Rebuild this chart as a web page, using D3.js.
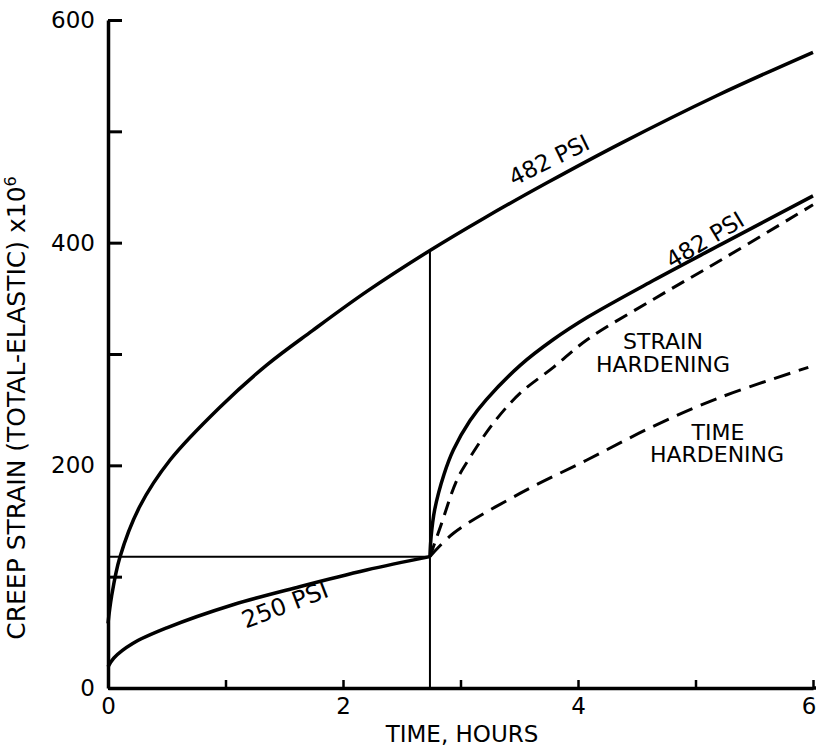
<!DOCTYPE html>
<html><head><meta charset="utf-8">
<script src="https://cdn.jsdelivr.net/npm/d3@7"></script>
<style>
body{margin:0;background:#fff;}
svg{display:block;background:#fff;}
text{font-family:"DejaVu Sans",sans-serif;fill:#000;}
</style>
</head><body>
<svg id="chart" width="816" height="753"></svg>
<script>
// ---- data (time in hours, creep strain x 10^6) ----
const xTickValues = [0, 1, 2, 3, 4, 5, 6];
const xTickLabels = ["0", "", "2", "", "4", "", "6"];
const yTickValues = [0, 100, 200, 300, 400, 500, 600];
const yTickLabels = ["0", "", "200", "", "400", "", "600"];

const time482 = [0, 0.03, 0.1, 0.27, 0.53, 0.95, 1.35, 1.74, 2.2, 2.74, 3.2, 3.74, 4.36, 5.18, 6.0];
const strain482 = [58, 82, 117, 163, 205, 252, 290, 321, 356, 393, 422, 454, 489, 532, 571];

const time250 = [0, 0.05, 0.21, 0.5, 1.07, 1.63, 2.2, 2.74];
const strain250 = [19, 27, 40, 54, 75, 91, 106, 118];

const timeSwitch = 2.74;
const strainSwitch = 118;

const time482After = [2.74, 2.75, 2.78, 2.86, 2.94, 3.08, 3.22, 3.51, 3.79, 4.08, 4.64, 5.21, 6.0];
const strain482After = [118, 136, 160, 192, 214, 240, 259, 290, 313, 333, 366, 398, 442];

const timeStrainHard = [2.74, 2.83, 2.97, 3.08, 3.28, 3.51, 3.79, 4.08, 4.64, 5.21, 6.0];
const strainStrainHard = [118, 145, 187, 207, 238, 265, 288, 313, 349, 384, 434];

const timeTimeHard = [2.74, 2.94, 3.51, 4.08, 4.64, 5.21, 5.96];
const strainTimeHard = [118, 139, 175, 205, 235, 261, 288];

const xTitle = "TIME, HOURS";
const yTitle = "CREEP STRAIN (TOTAL-ELASTIC) x10";
const yTitleSup = "6";

// ---- scales ----
const svg = d3.select("#chart");
const x = d3.scaleLinear().domain([0, 6]).range([108, 813]);
const y = d3.scaleLinear().domain([0, 600]).range([688, 20]);

const line = d3.line().x(d => x(d[0])).y(d => y(d[1])).curve(d3.curveCatmullRom.alpha(0.5));
const zip = (a, b) => a.map((v, i) => [v, b[i]]);

// ---- thin construction lines ----
svg.append("line")
  .attr("x1", x(0)).attr("x2", x(timeSwitch))
  .attr("y1", y(strainSwitch)).attr("y2", y(strainSwitch))
  .attr("stroke", "#000").attr("stroke-width", 2);
const idx = time482.indexOf(timeSwitch);
svg.append("line")
  .attr("x1", x(timeSwitch)).attr("x2", x(timeSwitch))
  .attr("y1", y(0)).attr("y2", y(strain482[idx]))
  .attr("stroke", "#000").attr("stroke-width", 2);

// ---- axes ----
const yAxis = d3.axisLeft(y).tickValues(yTickValues)
  .tickSizeInner(-14).tickSizeOuter(0).tickPadding(13)
  .tickFormat((d, i) => yTickLabels[i]);
const gy = svg.append("g").attr("transform", `translate(${x(0)},0)`).call(yAxis);
gy.select(".domain").attr("stroke-width", 3.5);
gy.selectAll(".tick line").attr("stroke-width", 3);
gy.selectAll(".tick text").style("font-size", "23px").style("font-family", "DejaVu Sans");

const xAxis = d3.axisBottom(x).tickValues(xTickValues)
  .tickSizeInner(-8).tickSizeOuter(0).tickPadding(10)
  .tickFormat((d, i) => xTickLabels[i]);
const gx = svg.append("g").attr("transform", `translate(0,${y(0)})`).call(xAxis);
gx.select(".domain").attr("stroke-width", 3.5);
gx.selectAll(".tick line").attr("stroke-width", 2.5);
gx.selectAll(".tick text").style("font-size", "23px").style("font-family", "DejaVu Sans");
gx.selectAll(".tick text").filter(d => d === 6).attr("text-anchor", "end").attr("x", 816 - x(6));
gx.append("line").attr("x1", x(6)).attr("x2", 816).attr("y1", 0).attr("y2", 0)
  .attr("stroke", "#000").attr("stroke-width", 3.5);

// ---- curves ----
svg.append("path").datum(zip(time482, strain482)).attr("d", line)
  .attr("fill", "none").attr("stroke", "#000").attr("stroke-width", 3.5);
svg.append("path").datum(zip(time250, strain250)).attr("d", line)
  .attr("fill", "none").attr("stroke", "#000").attr("stroke-width", 3.5);
svg.append("path").datum(zip(time482After, strain482After)).attr("d", line)
  .attr("fill", "none").attr("stroke", "#000").attr("stroke-width", 3.5);
svg.append("path").datum(zip(timeStrainHard, strainStrainHard)).attr("d", line)
  .attr("fill", "none").attr("stroke", "#000").attr("stroke-width", 3)
  .attr("stroke-dasharray", "14,8");
svg.append("path").datum(zip(timeTimeHard, strainTimeHard)).attr("d", line)
  .attr("fill", "none").attr("stroke", "#000").attr("stroke-width", 3)
  .attr("stroke-dasharray", "17,9");

// ---- labels ----
function label(txt, cx, cy, rot, size) {
  svg.append("text").attr("transform", `translate(${cx},${cy}) rotate(${rot})`)
    .attr("text-anchor", "middle").attr("dominant-baseline", "central")
    .style("font-size", size + "px").text(txt);
}
label("482 PSI", 549, 160, -26, 23);
label("482 PSI", 705, 240, -31, 23);
label("250 PSI", 285, 605, -21, 24);
label("STRAIN", 663, 341, 0, 22);
label("HARDENING", 663, 364, 0, 22);
label("TIME", 718, 432, 0, 22);
label("HARDENING", 717, 454, 0, 22);

svg.append("text").attr("x", 462).attr("y", 742).attr("text-anchor", "middle")
  .style("font-size", "23px").text(xTitle);

const yt = svg.append("text").attr("transform", "translate(25,408) rotate(-90)")
  .attr("text-anchor", "middle").style("font-size", "25px");
yt.append("tspan").text(yTitle);
yt.append("tspan").attr("dy", -9).style("font-size", "16px").text(yTitleSup);
</script>
</body></html>
